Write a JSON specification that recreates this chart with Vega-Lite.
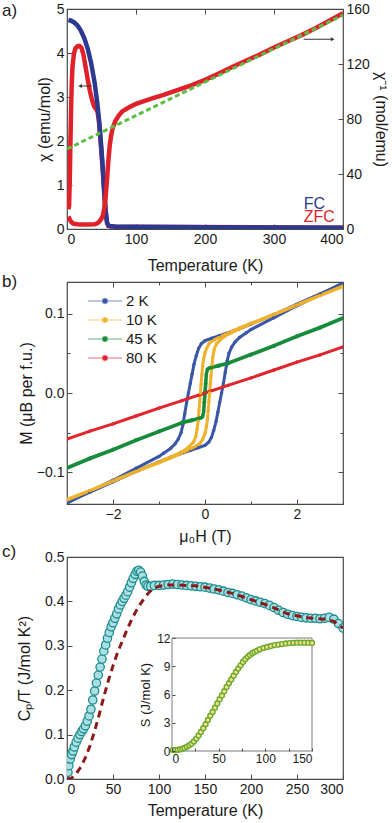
{
"$schema": "https://vega.github.io/schema/vega-lite/v6.json",
"padding": {"left": 1, "top": 1, "right": 0, "bottom": 0},
"spacing": -3,
"resolve": {"legend": {"color": "independent"}},
"config": {
  "font": "Liberation Sans",
  "view": {"stroke": "#4a4a4a", "strokeWidth": 1.2},
  "axis": {"labelFont": "Liberation Sans", "titleFont": "Liberation Sans", "labelFontSize": 14, "titleFontSize": 16, "titleFontWeight": "normal", "labelColor": "#1a1a1a", "titleColor": "#1a1a1a", "tickColor": "#4a4a4a", "domain": false, "grid": false, "tickSize": -5, "labelPadding": 8},
  "title": {"font": "Liberation Sans", "fontSize": 17, "fontWeight": "normal", "anchor": "start", "frame": "group", "offset": 0, "baseline": "alphabetic", "color": "#1a1a1a"}
},
"datasets": {
  "a_chi": [
    {"s":"FC","T":2,"v":4.75},{"s":"FC","T":5,"v":4.74},{"s":"FC","T":10,"v":4.7},{"s":"FC","T":15,"v":4.63},{"s":"FC","T":20,"v":4.51},{"s":"FC","T":25,"v":4.34},{"s":"FC","T":30,"v":4.1},{"s":"FC","T":35,"v":3.77},{"s":"FC","T":40,"v":3.33},{"s":"FC","T":44,"v":2.85},{"s":"FC","T":47,"v":2.38},{"s":"FC","T":50,"v":1.8},{"s":"FC","T":52,"v":1.35},{"s":"FC","T":54,"v":0.85},{"s":"FC","T":56,"v":0.42},{"s":"FC","T":58,"v":0.16},{"s":"FC","T":60,"v":0.08},{"s":"FC","T":63,"v":0.06},{"s":"FC","T":70,"v":0.055},{"s":"FC","T":100,"v":0.05},{"s":"FC","T":150,"v":0.045},{"s":"FC","T":200,"v":0.04},{"s":"FC","T":300,"v":0.035},{"s":"FC","T":400,"v":0.03},
    {"s":"ZFC","T":2,"v":0.45},{"s":"ZFC","T":3,"v":0.52},{"s":"ZFC","T":4,"v":1.1},{"s":"ZFC","T":5,"v":2.0},{"s":"ZFC","T":6,"v":2.8},{"s":"ZFC","T":7,"v":3.35},{"s":"ZFC","T":8,"v":3.7},{"s":"ZFC","T":10,"v":3.98},{"s":"ZFC","T":12,"v":4.1},{"s":"ZFC","T":15,"v":4.15},{"s":"ZFC","T":18,"v":4.16},{"s":"ZFC","T":21,"v":4.12},{"s":"ZFC","T":24,"v":3.95},{"s":"ZFC","T":27,"v":3.68},{"s":"ZFC","T":30,"v":3.4},{"s":"ZFC","T":33,"v":3.15},{"s":"ZFC","T":36,"v":2.95},{"s":"ZFC","T":39,"v":2.8},{"s":"ZFC","T":42,"v":2.72},{"s":"ZFC","T":44,"v":2.68},{"s":"ZFC","T":46,"v":2.5},{"s":"ZFC","T":48,"v":2.12},{"s":"ZFC","T":50,"v":1.72},{"s":"ZFC","T":52,"v":1.28},{"s":"ZFC","T":54,"v":0.8},{"s":"ZFC","T":56,"v":0.38},{"s":"ZFC","T":58,"v":0.14},{"s":"ZFC","T":60,"v":0.07},{"s":"ZFC","T":70,"v":0.05},{"s":"ZFC","T":400,"v":0.03}
  ],
  "a_inv": [
    {"T":2,"v":9},{"T":4,"v":7},{"T":6,"v":5.2},{"T":8,"v":4.3},{"T":10,"v":3.8},{"T":15,"v":3.4},{"T":20,"v":3.2},{"T":30,"v":3.2},{"T":40,"v":3.4},{"T":44,"v":4.2},{"T":47,"v":5.5},{"T":50,"v":7.5},{"T":52,"v":10},{"T":54,"v":15},{"T":56,"v":23},{"T":58,"v":36},{"T":60,"v":50},{"T":62,"v":61},{"T":64,"v":68},{"T":66,"v":73},{"T":70,"v":78.5},{"T":75,"v":82.5},{"T":80,"v":85.5},{"T":90,"v":88.5},{"T":100,"v":91},{"T":120,"v":94.5},{"T":140,"v":97.5},{"T":160,"v":101},{"T":180,"v":104.5},{"T":200,"v":108.5},{"T":220,"v":113},{"T":240,"v":118},{"T":260,"v":122.5},{"T":280,"v":127},{"T":300,"v":132},{"T":320,"v":136.5},{"T":340,"v":141},{"T":360,"v":146},{"T":380,"v":151.5},{"T":400,"v":157}
  ],
  "a_fit": [{"T":0,"v":58.2},{"T":400,"v":155.5}],
  "b": [
    {"s":"2 K","b":"d","H":3,"M":0.138},{"s":"2 K","b":"d","H":2.5,"M":0.125},{"s":"2 K","b":"d","H":2,"M":0.112},{"s":"2 K","b":"d","H":1.5,"M":0.099},{"s":"2 K","b":"d","H":1,"M":0.087},{"s":"2 K","b":"d","H":0.75,"M":0.081},{"s":"2 K","b":"d","H":0.5,"M":0.076},{"s":"2 K","b":"d","H":0.3,"M":0.072},{"s":"2 K","b":"d","H":0.15,"M":0.069},{"s":"2 K","b":"d","H":0,"M":0.066},{"s":"2 K","b":"d","H":-0.08,"M":0.062},{"s":"2 K","b":"d","H":-0.14,"M":0.056},{"s":"2 K","b":"d","H":-0.19,"M":0.047},{"s":"2 K","b":"d","H":-0.24,"M":0.036},{"s":"2 K","b":"d","H":-0.28,"M":0.024},{"s":"2 K","b":"d","H":-0.32,"M":0.012},{"s":"2 K","b":"d","H":-0.36,"M":0},{"s":"2 K","b":"d","H":-0.4,"M":-0.012},{"s":"2 K","b":"d","H":-0.44,"M":-0.026},{"s":"2 K","b":"d","H":-0.48,"M":-0.04},{"s":"2 K","b":"d","H":-0.52,"M":-0.05},{"s":"2 K","b":"d","H":-0.58,"M":-0.058},{"s":"2 K","b":"d","H":-0.65,"M":-0.064},{"s":"2 K","b":"d","H":-0.75,"M":-0.07},{"s":"2 K","b":"d","H":-0.9,"M":-0.076},{"s":"2 K","b":"d","H":-1,"M":-0.08},{"s":"2 K","b":"d","H":-1.5,"M":-0.095},{"s":"2 K","b":"d","H":-2,"M":-0.11},{"s":"2 K","b":"d","H":-2.5,"M":-0.124},{"s":"2 K","b":"d","H":-3,"M":-0.139},
    {"s":"2 K","b":"a","H":-3,"M":-0.138},{"s":"2 K","b":"a","H":-2.5,"M":-0.125},{"s":"2 K","b":"a","H":-2,"M":-0.112},{"s":"2 K","b":"a","H":-1.5,"M":-0.099},{"s":"2 K","b":"a","H":-1,"M":-0.087},{"s":"2 K","b":"a","H":-0.75,"M":-0.081},{"s":"2 K","b":"a","H":-0.5,"M":-0.076},{"s":"2 K","b":"a","H":-0.3,"M":-0.072},{"s":"2 K","b":"a","H":-0.15,"M":-0.069},{"s":"2 K","b":"a","H":0,"M":-0.066},{"s":"2 K","b":"a","H":0.08,"M":-0.062},{"s":"2 K","b":"a","H":0.14,"M":-0.056},{"s":"2 K","b":"a","H":0.19,"M":-0.047},{"s":"2 K","b":"a","H":0.24,"M":-0.036},{"s":"2 K","b":"a","H":0.28,"M":-0.024},{"s":"2 K","b":"a","H":0.32,"M":-0.012},{"s":"2 K","b":"a","H":0.36,"M":0},{"s":"2 K","b":"a","H":0.4,"M":0.012},{"s":"2 K","b":"a","H":0.44,"M":0.026},{"s":"2 K","b":"a","H":0.48,"M":0.04},{"s":"2 K","b":"a","H":0.52,"M":0.05},{"s":"2 K","b":"a","H":0.58,"M":0.058},{"s":"2 K","b":"a","H":0.65,"M":0.064},{"s":"2 K","b":"a","H":0.75,"M":0.07},{"s":"2 K","b":"a","H":0.9,"M":0.076},{"s":"2 K","b":"a","H":1,"M":0.08},{"s":"2 K","b":"a","H":1.5,"M":0.095},{"s":"2 K","b":"a","H":2,"M":0.11},{"s":"2 K","b":"a","H":2.5,"M":0.124},{"s":"2 K","b":"a","H":3,"M":0.139},
    {"s":"10 K","b":"d","H":3,"M":0.134},{"s":"10 K","b":"d","H":2.5,"M":0.123},{"s":"10 K","b":"d","H":2,"M":0.111},{"s":"10 K","b":"d","H":1.5,"M":0.099},{"s":"10 K","b":"d","H":1,"M":0.088},{"s":"10 K","b":"d","H":0.75,"M":0.082},{"s":"10 K","b":"d","H":0.5,"M":0.076},{"s":"10 K","b":"d","H":0.3,"M":0.07},{"s":"10 K","b":"d","H":0.2,"M":0.067},{"s":"10 K","b":"d","H":0.1,"M":0.063},{"s":"10 K","b":"d","H":0.05,"M":0.058},{"s":"10 K","b":"d","H":0,"M":0.051},{"s":"10 K","b":"d","H":-0.03,"M":0.043},{"s":"10 K","b":"d","H":-0.05,"M":0.034},{"s":"10 K","b":"d","H":-0.07,"M":0.022},{"s":"10 K","b":"d","H":-0.085,"M":0.011},{"s":"10 K","b":"d","H":-0.1,"M":0},{"s":"10 K","b":"d","H":-0.115,"M":-0.011},{"s":"10 K","b":"d","H":-0.13,"M":-0.022},{"s":"10 K","b":"d","H":-0.15,"M":-0.035},{"s":"10 K","b":"d","H":-0.17,"M":-0.045},{"s":"10 K","b":"d","H":-0.2,"M":-0.055},{"s":"10 K","b":"d","H":-0.25,"M":-0.062},{"s":"10 K","b":"d","H":-0.35,"M":-0.068},{"s":"10 K","b":"d","H":-0.5,"M":-0.074},{"s":"10 K","b":"d","H":-0.75,"M":-0.081},{"s":"10 K","b":"d","H":-1,"M":-0.087},{"s":"10 K","b":"d","H":-1.5,"M":-0.099},{"s":"10 K","b":"d","H":-2,"M":-0.111},{"s":"10 K","b":"d","H":-2.5,"M":-0.123},{"s":"10 K","b":"d","H":-3,"M":-0.135},
    {"s":"10 K","b":"a","H":-3,"M":-0.134},{"s":"10 K","b":"a","H":-2.5,"M":-0.123},{"s":"10 K","b":"a","H":-2,"M":-0.111},{"s":"10 K","b":"a","H":-1.5,"M":-0.099},{"s":"10 K","b":"a","H":-1,"M":-0.088},{"s":"10 K","b":"a","H":-0.75,"M":-0.082},{"s":"10 K","b":"a","H":-0.5,"M":-0.076},{"s":"10 K","b":"a","H":-0.3,"M":-0.07},{"s":"10 K","b":"a","H":-0.2,"M":-0.067},{"s":"10 K","b":"a","H":-0.1,"M":-0.063},{"s":"10 K","b":"a","H":-0.05,"M":-0.058},{"s":"10 K","b":"a","H":0,"M":-0.051},{"s":"10 K","b":"a","H":0.03,"M":-0.043},{"s":"10 K","b":"a","H":0.05,"M":-0.034},{"s":"10 K","b":"a","H":0.07,"M":-0.022},{"s":"10 K","b":"a","H":0.085,"M":-0.011},{"s":"10 K","b":"a","H":0.1,"M":0},{"s":"10 K","b":"a","H":0.115,"M":0.011},{"s":"10 K","b":"a","H":0.13,"M":0.022},{"s":"10 K","b":"a","H":0.15,"M":0.035},{"s":"10 K","b":"a","H":0.17,"M":0.045},{"s":"10 K","b":"a","H":0.2,"M":0.055},{"s":"10 K","b":"a","H":0.25,"M":0.062},{"s":"10 K","b":"a","H":0.35,"M":0.068},{"s":"10 K","b":"a","H":0.5,"M":0.074},{"s":"10 K","b":"a","H":0.75,"M":0.081},{"s":"10 K","b":"a","H":1,"M":0.087},{"s":"10 K","b":"a","H":1.5,"M":0.099},{"s":"10 K","b":"a","H":2,"M":0.111},{"s":"10 K","b":"a","H":2.5,"M":0.123},{"s":"10 K","b":"a","H":3,"M":0.135},
    {"s":"45 K","b":"d","H":3,"M":0.094},{"s":"45 K","b":"d","H":2.5,"M":0.082},{"s":"45 K","b":"d","H":2,"M":0.071},{"s":"45 K","b":"d","H":1.5,"M":0.059},{"s":"45 K","b":"d","H":1,"M":0.048},{"s":"45 K","b":"d","H":0.5,"M":0.037},{"s":"45 K","b":"d","H":0.3,"M":0.034},{"s":"45 K","b":"d","H":0.15,"M":0.032},{"s":"45 K","b":"d","H":0.06,"M":0.03},{"s":"45 K","b":"d","H":0.03,"M":0.024},{"s":"45 K","b":"d","H":0.01,"M":0.012},{"s":"45 K","b":"d","H":-0.01,"M":0},{"s":"45 K","b":"d","H":-0.02,"M":-0.012},{"s":"45 K","b":"d","H":-0.03,"M":-0.024},{"s":"45 K","b":"d","H":-0.05,"M":-0.03},{"s":"45 K","b":"d","H":-0.1,"M":-0.032},{"s":"45 K","b":"d","H":-0.3,"M":-0.035},{"s":"45 K","b":"d","H":-0.5,"M":-0.038},{"s":"45 K","b":"d","H":-1,"M":-0.049},{"s":"45 K","b":"d","H":-1.5,"M":-0.06},{"s":"45 K","b":"d","H":-2,"M":-0.072},{"s":"45 K","b":"d","H":-2.5,"M":-0.083},{"s":"45 K","b":"d","H":-3,"M":-0.095},
    {"s":"45 K","b":"a","H":-3,"M":-0.094},{"s":"45 K","b":"a","H":-2.5,"M":-0.082},{"s":"45 K","b":"a","H":-2,"M":-0.071},{"s":"45 K","b":"a","H":-1.5,"M":-0.059},{"s":"45 K","b":"a","H":-1,"M":-0.048},{"s":"45 K","b":"a","H":-0.5,"M":-0.037},{"s":"45 K","b":"a","H":-0.3,"M":-0.034},{"s":"45 K","b":"a","H":-0.15,"M":-0.032},{"s":"45 K","b":"a","H":-0.06,"M":-0.03},{"s":"45 K","b":"a","H":-0.03,"M":-0.024},{"s":"45 K","b":"a","H":-0.01,"M":-0.012},{"s":"45 K","b":"a","H":0.01,"M":0},{"s":"45 K","b":"a","H":0.02,"M":0.012},{"s":"45 K","b":"a","H":0.03,"M":0.024},{"s":"45 K","b":"a","H":0.05,"M":0.03},{"s":"45 K","b":"a","H":0.1,"M":0.032},{"s":"45 K","b":"a","H":0.3,"M":0.035},{"s":"45 K","b":"a","H":0.5,"M":0.038},{"s":"45 K","b":"a","H":1,"M":0.049},{"s":"45 K","b":"a","H":1.5,"M":0.06},{"s":"45 K","b":"a","H":2,"M":0.072},{"s":"45 K","b":"a","H":2.5,"M":0.083},{"s":"45 K","b":"a","H":3,"M":0.095},
    {"s":"80 K","b":"d","H":-3,"M":-0.058},{"s":"80 K","b":"d","H":-2.5,"M":-0.048},{"s":"80 K","b":"d","H":-2,"M":-0.039},{"s":"80 K","b":"d","H":-1.5,"M":-0.029},{"s":"80 K","b":"d","H":-1,"M":-0.019},{"s":"80 K","b":"d","H":-0.5,"M":-0.0097},{"s":"80 K","b":"d","H":0,"M":0},{"s":"80 K","b":"d","H":0.5,"M":0.0097},{"s":"80 K","b":"d","H":1,"M":0.019},{"s":"80 K","b":"d","H":1.5,"M":0.029},{"s":"80 K","b":"d","H":2,"M":0.039},{"s":"80 K","b":"d","H":2.5,"M":0.048},{"s":"80 K","b":"d","H":3,"M":0.058}
  ],
  "c_cp": [
    {"T":1,"C":0.015},{"T":2,"C":0.03},{"T":3.5,"C":0.045},{"T":5,"C":0.055},{"T":6.5,"C":0.063},{"T":8,"C":0.072},{"T":10,"C":0.083},{"T":12,"C":0.092},{"T":14,"C":0.1},{"T":16,"C":0.107},{"T":18,"C":0.113},{"T":20,"C":0.12},{"T":22,"C":0.13},{"T":24,"C":0.142},{"T":26,"C":0.157},{"T":28,"C":0.178},{"T":30,"C":0.198},{"T":32,"C":0.216},{"T":34,"C":0.234},{"T":36,"C":0.252},{"T":38,"C":0.27},{"T":40,"C":0.288},{"T":42,"C":0.302},{"T":44,"C":0.317},{"T":46,"C":0.33},{"T":48,"C":0.343},{"T":50,"C":0.352},{"T":52,"C":0.362},{"T":54,"C":0.372},{"T":56,"C":0.383},{"T":58,"C":0.392},{"T":60,"C":0.4},{"T":62,"C":0.407},{"T":64,"C":0.414},{"T":66,"C":0.422},{"T":68,"C":0.432},{"T":70,"C":0.442},{"T":72,"C":0.452},{"T":74,"C":0.461},{"T":76,"C":0.468},{"T":78,"C":0.47},{"T":80,"C":0.466},{"T":82,"C":0.457},{"T":84,"C":0.445},{"T":86,"C":0.437},{"T":88,"C":0.434},{"T":91,"C":0.434},{"T":95,"C":0.436},{"T":100,"C":0.436},{"T":105,"C":0.437},{"T":110,"C":0.438},{"T":115,"C":0.439},{"T":120,"C":0.438},{"T":125,"C":0.437},{"T":130,"C":0.436},{"T":135,"C":0.435},{"T":140,"C":0.434},{"T":145,"C":0.433},{"T":150,"C":0.432},{"T":155,"C":0.43},{"T":160,"C":0.428},{"T":165,"C":0.426},{"T":170,"C":0.423},{"T":175,"C":0.42},{"T":180,"C":0.418},{"T":185,"C":0.415},{"T":190,"C":0.412},{"T":195,"C":0.408},{"T":200,"C":0.404},{"T":205,"C":0.401},{"T":210,"C":0.398},{"T":215,"C":0.395},{"T":220,"C":0.391},{"T":225,"C":0.386},{"T":230,"C":0.38},{"T":235,"C":0.375},{"T":240,"C":0.371},{"T":245,"C":0.368},{"T":250,"C":0.366},{"T":255,"C":0.364},{"T":260,"C":0.363},{"T":265,"C":0.362},{"T":270,"C":0.362},{"T":275,"C":0.361},{"T":280,"C":0.362},{"T":285,"C":0.364},{"T":290,"C":0.36},{"T":295,"C":0.35},{"T":300,"C":0.34}
  ],
  "c_dash": [
    {"T":0,"C":0},{"T":5,"C":0.002},{"T":10,"C":0.012},{"T":15,"C":0.027},{"T":20,"C":0.048},{"T":25,"C":0.075},{"T":30,"C":0.108},{"T":35,"C":0.145},{"T":40,"C":0.185},{"T":45,"C":0.222},{"T":50,"C":0.255},{"T":55,"C":0.285},{"T":60,"C":0.31},{"T":65,"C":0.335},{"T":70,"C":0.358},{"T":75,"C":0.378},{"T":80,"C":0.395},{"T":85,"C":0.41},{"T":90,"C":0.422},{"T":95,"C":0.43},{"T":100,"C":0.434},{"T":110,"C":0.437},{"T":120,"C":0.437},{"T":140,"C":0.435},{"T":160,"C":0.428},{"T":180,"C":0.418},{"T":200,"C":0.404},{"T":220,"C":0.39},{"T":240,"C":0.372},{"T":260,"C":0.363},{"T":280,"C":0.36},{"T":290,"C":0.355},{"T":300,"C":0.34}
  ],
  "c_s": [
    {"T":1,"S":0.1},{"T":3.5,"S":0.1},{"T":6,"S":0.13},{"T":8.5,"S":0.17},{"T":11,"S":0.23},{"T":13.5,"S":0.32},{"T":16,"S":0.45},{"T":18.5,"S":0.6},{"T":21,"S":0.78},{"T":23.5,"S":1.02},{"T":26,"S":1.32},{"T":28.5,"S":1.65},{"T":31,"S":2.02},{"T":33.5,"S":2.42},{"T":36,"S":2.85},{"T":38.5,"S":3.3},{"T":41,"S":3.75},{"T":43.5,"S":4.15},{"T":46,"S":4.6},{"T":48.5,"S":5.05},{"T":51,"S":5.5},{"T":53.5,"S":5.9},{"T":56,"S":6.35},{"T":58.5,"S":6.8},{"T":61,"S":7.2},{"T":63.5,"S":7.6},{"T":66,"S":8.0},{"T":68.5,"S":8.4},{"T":71,"S":8.75},{"T":73.5,"S":9.1},{"T":76,"S":9.45},{"T":78.5,"S":9.75},{"T":81,"S":10.0},{"T":83.5,"S":10.2},{"T":86,"S":10.38},{"T":88.5,"S":10.52},{"T":91,"S":10.65},{"T":94,"S":10.8},{"T":98,"S":10.95},{"T":102,"S":11.05},{"T":106,"S":11.15},{"T":110,"S":11.25},{"T":114,"S":11.3},{"T":118,"S":11.36},{"T":122,"S":11.42},{"T":126,"S":11.46},{"T":130,"S":11.49},{"T":134,"S":11.5},{"T":138,"S":11.5},{"T":142,"S":11.5},{"T":146,"S":11.5},{"T":150,"S":11.48}
  ]
},
"vconcat": [
  {
    "width": 276, "height": 220,
    "title": {"text": "a)", "dx": -65, "dy": 22},
    "layer": [
      {"layer": [
        {"data": {"name": "a_chi"}, "transform": [{"filter": "datum.s == 'ZFC'"}],
         "mark": {"type": "line", "color": "#e0212a", "strokeWidth": 4.5, "clip": true},
         "encoding": {
           "x": {"field": "T", "type": "quantitative", "scale": {"domain": [0, 400], "nice": false},
                 "axis": {"orient": "bottom", "title": "Temperature (K)", "values": [0,25,50,75,100,125,150,175,200,225,250,275,300,325,350,375,400], "labelExpr": "datum.value % 50 == 0 ? datum.label : ''", "tickSize": {"condition": {"test": "datum.value % 50 == 0", "value": -5}, "value": -3}, "titlePadding": 11}},
           "y": {"field": "v", "type": "quantitative", "scale": {"domain": [0, 5], "nice": false},
                 "axis": {"orient": "left", "title": "χ (emu/mol)", "values": [0,0.5,1,1.5,2,2.5,3,3.5,4,4.5,5], "labelExpr": "datum.value % 1 == 0 ? datum.label : ''", "tickSize": {"condition": {"test": "datum.value % 1 == 0", "value": -5}, "value": -3}, "titlePadding": 4}}
         }},
        {"data": {"name": "a_chi"}, "transform": [{"filter": "datum.s == 'FC'"}],
         "mark": {"type": "line", "color": "#2b3990", "strokeWidth": 4.5, "clip": true},
         "encoding": {"x": {"field": "T", "type": "quantitative"}, "y": {"field": "v", "type": "quantitative"}}},
        {"data": {"values": [{}]}, "mark": {"type": "rule", "color": "#333333", "strokeWidth": 1},
         "encoding": {"x": {"datum": 20, "type": "quantitative"}, "x2": {"datum": 36}, "y": {"datum": 3.25, "type": "quantitative"}}},
        {"data": {"values": [{}]}, "mark": {"type": "point", "shape": "triangle-left", "filled": true, "color": "#333333", "size": 18, "opacity": 1},
         "encoding": {"x": {"datum": 19, "type": "quantitative"}, "y": {"datum": 3.25, "type": "quantitative"}}},
        {"data": {"values": [{}]}, "mark": {"type": "text", "text": "FC", "color": "#2b3990", "fontSize": 16, "align": "left", "baseline": "alphabetic"},
         "encoding": {"x": {"datum": 343, "type": "quantitative"}, "y": {"datum": 0.46, "type": "quantitative"}}},
        {"data": {"values": [{}]}, "mark": {"type": "text", "text": "ZFC", "color": "#e0212a", "fontSize": 16, "align": "left", "baseline": "alphabetic"},
         "encoding": {"x": {"datum": 343, "type": "quantitative"}, "y": {"datum": 0.16, "type": "quantitative"}}}
      ]},
      {"layer": [
        {"data": {"name": "a_inv"},
         "mark": {"type": "line", "color": "#e0212a", "strokeWidth": 4.5, "clip": true},
         "encoding": {
           "x": {"field": "T", "type": "quantitative", "scale": {"domain": [0, 400], "nice": false},
                 "axis": {"orient": "top", "title": null, "labels": false, "values": [0,25,50,75,100,125,150,175,200,225,250,275,300,325,350,375,400], "tickSize": {"condition": {"test": "datum.value % 50 == 0", "value": -5}, "value": -3}}},
           "y": {"field": "v", "type": "quantitative", "scale": {"domain": [0, 160], "nice": false},
                 "axis": {"orient": "right", "title": "χ⁻¹ (mol/emu)", "values": [0,10,20,30,40,50,60,70,80,90,100,110,120,130,140,150,160], "labelExpr": "datum.value % 20 == 0 ? datum.label : ''", "tickSize": {"condition": {"test": "datum.value % 20 == 0", "value": -5}, "value": -3}, "titlePadding": 3}}
         }},
        {"data": {"name": "a_fit"},
         "mark": {"type": "line", "color": "#5cbf45", "strokeWidth": 3, "strokeDash": [5, 3]},
         "encoding": {"x": {"field": "T", "type": "quantitative"}, "y": {"field": "v", "type": "quantitative"}}},
        {"data": {"values": [{}]}, "mark": {"type": "rule", "color": "#333333", "strokeWidth": 1},
         "encoding": {"x": {"datum": 343, "type": "quantitative"}, "x2": {"datum": 383}, "y": {"datum": 138, "type": "quantitative"}}},
        {"data": {"values": [{}]}, "mark": {"type": "point", "shape": "triangle-right", "filled": true, "color": "#333333", "size": 18, "opacity": 1},
         "encoding": {"x": {"datum": 385, "type": "quantitative"}, "y": {"datum": 138, "type": "quantitative"}}}
      ]}
    ],
    "resolve": {"scale": {"y": "independent"}, "axis": {"x": "independent", "y": "independent"}}
  },
  {
    "width": 276, "height": 222,
    "title": {"text": "b)", "dx": -65, "dy": 13},
    "data": {"name": "b"},
    "layer": [
      {"mark": {"type": "line", "strokeWidth": 3, "clip": true},
       "encoding": {
         "x": {"field": "H", "type": "quantitative", "scale": {"domain": [-3, 3], "nice": false},
               "axis": {"orient": "bottom", "title": "μ₀H (T)", "values": [-3,-2,-1,0,1,2,3], "labelExpr": "datum.value % 2 == 0 ? datum.label : ''", "tickSize": {"condition": {"test": "datum.value % 2 == 0", "value": -5}, "value": -3}, "titlePadding": 7}},
         "y": {"field": "M", "type": "quantitative", "scale": {"domain": [-0.14, 0.14], "nice": false, "zero": false},
               "axis": {"orient": "left", "title": "M (μB per f.u.)", "values": [-0.1,-0.05,0,0.05,0.1], "format": ".1f", "labelExpr": "abs(datum.value) == 0.05 ? '' : datum.label", "tickSize": {"condition": {"test": "abs(datum.value) == 0.05", "value": -3}, "value": -5}, "titlePadding": 2}},
         "color": {"field": "s", "type": "nominal", "scale": {"domain": ["2 K", "10 K", "45 K", "80 K"], "range": ["#3a57a7", "#f0b22c", "#168c3a", "#e2252c"]},
                   "legend": {"orient": "top-left", "offset": 9, "padding": 0, "title": null, "labelFontSize": 15, "labelFont": "Liberation Sans", "labelColor": "#1a1a1a", "labelExpr": "datum.label == '2 K' ? '\u20072 K' : datum.label", "symbolType": "M0.22,0H4M1.83,0a0.28,0.28 0 1,0 0.56,0a0.28,0.28 0 1,0 -0.56,0", "symbolSize": 324, "symbolStrokeWidth": 1.5, "rowPadding": 1, "labelOffset": 30,
                              "encode": {"symbols": {"update": {"fill": {"scale": "color", "field": "value"}, "stroke": {"scale": "color", "field": "value"}, "strokeOpacity": {"value": 0.45}, "opacity": {"value": 1}}}}}},
         "detail": {"field": "b", "type": "nominal"}
       }},
      {"mark": {"type": "point", "filled": true, "size": 12, "opacity": 1, "clip": true},
       "encoding": {
         "x": {"field": "H", "type": "quantitative",
               "axis": {"orient": "top", "title": null, "labels": false, "values": [-3,-2,-1,0,1,2,3], "tickSize": {"condition": {"test": "datum.value % 2 == 0", "value": -5}, "value": -3}}},
         "y": {"field": "M", "type": "quantitative",
               "axis": {"orient": "right", "title": null, "labels": false, "values": [-0.1,-0.05,0,0.05,0.1], "tickSize": {"condition": {"test": "abs(datum.value) == 0.05", "value": -3}, "value": -5}}},
         "color": {"field": "s", "type": "nominal"}
       }}
    ],
    "resolve": {"axis": {"x": "independent", "y": "independent"}}
  },
  {
    "width": 276, "height": 222,
    "title": {"text": "c)", "dx": -65, "dy": 15},
    "layer": [
      {"layer": [
        {"data": {"name": "c_cp"},
         "mark": {"type": "point", "size": 70, "fill": "#a9dfe3", "stroke": "#1e8c8c", "strokeWidth": 1.3, "opacity": 1, "filled": false, "fillOpacity": 1, "clip": true},
         "encoding": {
           "x": {"field": "T", "type": "quantitative", "scale": {"domain": [0, 300], "nice": false},
                 "axis": {"orient": "bottom", "title": "Temperature (K)", "values": [0,25,50,75,100,125,150,175,200,225,250,275,300], "labelExpr": "datum.value % 50 == 0 ? datum.label : ''", "tickSize": {"condition": {"test": "datum.value % 50 == 0", "value": -5}, "value": -3}, "titlePadding": 6}},
           "y": {"field": "C", "type": "quantitative", "scale": {"domain": [0, 0.5], "nice": false},
                 "axis": {"orient": "left", "title": "Cₚ/T (J/mol K²)", "values": [0,0.05,0.1,0.15,0.2,0.25,0.3,0.35,0.4,0.45,0.5], "format": ".1f", "labelExpr": "abs(datum.value*10 - round(datum.value*10)) < 0.01 ? datum.label : ''", "tickSize": {"condition": {"test": "abs(datum.value*10 - round(datum.value*10)) < 0.01", "value": -5}, "value": -3}, "titlePadding": 12}}
         }},
        {"data": {"name": "c_dash"},
         "mark": {"type": "line", "color": "#8b1a1a", "strokeWidth": 3, "strokeDash": [7, 5], "clip": true},
         "encoding": {
           "x": {"field": "T", "type": "quantitative"},
           "y": {"field": "C", "type": "quantitative"}
         }}
      ]},
      {"layer": [
        {"data": {"values": [{}]},
         "mark": {"type": "rect", "fill": "white", "stroke": "#7a7a7a", "strokeWidth": 1},
         "encoding": {
           "x": {"datum": 0, "type": "quantitative", "scale": {"domain": [0, 150], "range": [105, 245], "nice": false},
                 "axis": {"orient": "bottom", "offset": -28, "title": null, "values": [0,25,50,75,100,125,150], "labelExpr": "datum.value % 50 == 0 ? datum.label : ''", "labelFontSize": 12, "tickSize": -3, "labelPadding": 5, "zindex": 2}},
           "x2": {"datum": 150},
           "y": {"datum": 0, "type": "quantitative", "scale": {"domain": [0, 12], "range": [194, 81], "nice": false},
                 "axis": {"orient": "left", "offset": -105, "title": "S (J/mol K)", "titleFontSize": 13, "values": [0,1.5,3,4.5,6,7.5,9,10.5,12], "labelExpr": "datum.value % 3 == 0 ? datum.label : ''", "labelFontSize": 12, "tickSize": -3, "labelPadding": 5, "titlePadding": 4, "zindex": 2}},
           "y2": {"datum": 12}
         }},
        {"data": {"name": "c_s"},
         "mark": {"type": "point", "size": 24, "fill": "#f2df8c", "stroke": "#69aa2d", "strokeWidth": 1.4, "opacity": 1, "filled": false, "fillOpacity": 1},
         "encoding": {
           "x": {"field": "T", "type": "quantitative"},
           "y": {"field": "S", "type": "quantitative"}
         }}
      ]}
    ],
    "resolve": {"scale": {"x": "independent", "y": "independent"}, "axis": {"x": "independent", "y": "independent"}}
  }
]
}
